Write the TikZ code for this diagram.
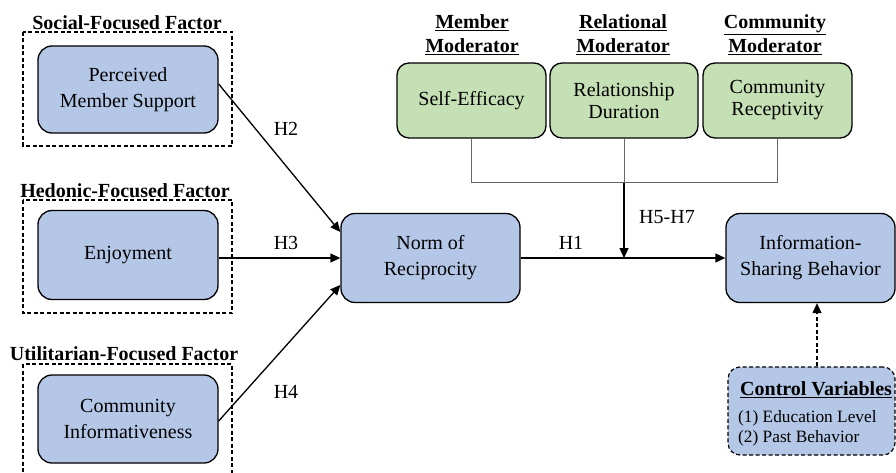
\documentclass[tikz,border=0pt]{standalone}
\usepackage{fontspec}
\setmainfont{Liberation Serif}
\usetikzlibrary{arrows.meta}
\definecolor{blueF}{HTML}{B4C7E7}
\definecolor{greenF}{HTML}{C5E0B4}
\tikzset{
  bluebox/.style={draw, line width=1.3pt, fill=blueF, rounded corners=14pt, align=center, inner sep=0pt, font=\fontsize{20}{26}\selectfont},
  greenbox/.style={draw, line width=1.3pt, fill=greenF, rounded corners=12pt, align=center, inner sep=0pt, font=\fontsize{20}{22}\selectfont, minimum width=149pt, minimum height=75pt},
  groupbox/.style={draw, line width=1.2pt, dash pattern=on 4pt off 2.5pt},
  grouptitle/.style={font=\bfseries\fontsize{20}{24}\selectfont, inner sep=0pt, anchor=base},
  modtitle/.style={font=\bfseries\fontsize{20}{24}\selectfont, inner sep=0pt, align=center},
  hlabel/.style={font=\fontsize{20}{24}\selectfont, inner sep=0pt},
  arr/.style={line width=1.3pt, -{Triangle[length=10pt,width=9pt]}},
  brack/.style={line width=1pt, draw=black!60},
}
\begin{document}
\begin{tikzpicture}[x=1pt,y=-1pt]
\useasboundingbox (0,0) rectangle (896,473);
\clip (0,0) rectangle (896,473);
% group boxes
\draw[groupbox] (23,32) rectangle (232,146);
\draw[groupbox] (23,200) rectangle (232,313);
\draw[groupbox] (23,364) rectangle (232,480);
\node[grouptitle] (t1) at (127,30) {Social-Focused Factor};
\node[grouptitle] (t2) at (125,197) {Hedonic-Focused Factor};
\node[grouptitle] (t3) at (124,360) {Utilitarian-Focused Factor};
% left nodes
\node[bluebox, minimum width=180pt, minimum height=87pt] (pms) at (128,89.5) {Perceived\\Member Support};
\node[bluebox, minimum width=180pt, minimum height=89pt] (enj) at (128,255) {Enjoyment};
\node[bluebox, minimum width=180pt, minimum height=88pt] (ci) at (128,419) {Community\\Informativeness};
% center / right
\node[bluebox, minimum width=179pt, minimum height=89pt] (norm) at (430.5,258) {Norm of\\Reciprocity};
\node[bluebox, minimum width=169pt, minimum height=89pt] (isb) at (810.5,258) {Information-\\Sharing Behavior};
% moderators
\node[greenbox] (se) at (471.5,100.5) {Self-Efficacy};
\node[greenbox, minimum width=148pt] (rd) at (624,100.5) {Relationship\\Duration};
\node[greenbox] (cr) at (777.5,100.5) {Community\\Receptivity};
\node[modtitle] (m1) at (472,35) {\underline{Member}\\\underline{Moderator}};
\node[modtitle] (m2) at (623,35) {\underline{Relational}\\\underline{Moderator}};
\node[modtitle] (m3) at (775,35) {\underline{Community}\\\underline{Moderator}};
% control variables
\node[draw, line width=1.2pt, dash pattern=on 4pt off 2.5pt, fill=blueF, rounded corners=12pt, minimum width=167pt, minimum height=88pt, inner sep=0pt] (cv) at (811.5,411) {};
\node[anchor=base west, inner sep=0pt, font=\bfseries\fontsize{20}{24}\selectfont] (cvt) at (740,395) {\underline{Control Variables}};
\node[anchor=base west, inner sep=0pt, font=\fontsize{17.3}{20}\selectfont, align=left] (cvl) at (738,422) {(1) Education Level};
\node[anchor=base west, inner sep=0pt, font=\fontsize{17.3}{20}\selectfont, align=left] (cvl2) at (738,442) {(2) Past Behavior};
% connectors
\draw[arr] ([yshift=5.5pt]pms.east) -- ([yshift=26pt]norm.west);
\draw[arr] (norm.west -| enj.east) -- (norm.west);
\draw[arr] ([yshift=-2pt]ci.east) -- ([yshift=-27pt]norm.west);
\draw[arr] (norm.east) -- (isb.west);
\coordinate (jn) at (624,183);
\coordinate (mid) at (jn |- norm.east);
\draw[brack] (se.south) |- (cr.south |- jn) -- (cr.south);
\draw[brack] (rd.south) -- (jn);
\draw[arr] (jn) -- (mid);
\coordinate (ax) at (817,0);
\draw[arr, dash pattern=on 4pt off 2.5pt] (cv.north -| ax) -- (isb.south -| ax);
% labels
\node[hlabel] (h2) at (286,128.5) {H2};
\node[hlabel] (h3) at (286,243) {H3};
\node[hlabel] (h4) at (286,392) {H4};
\node[hlabel] (h1) at (571,243) {H1};
\node[hlabel] (h57) at (667,217) {H5-H7};
\end{tikzpicture}
\end{document}
